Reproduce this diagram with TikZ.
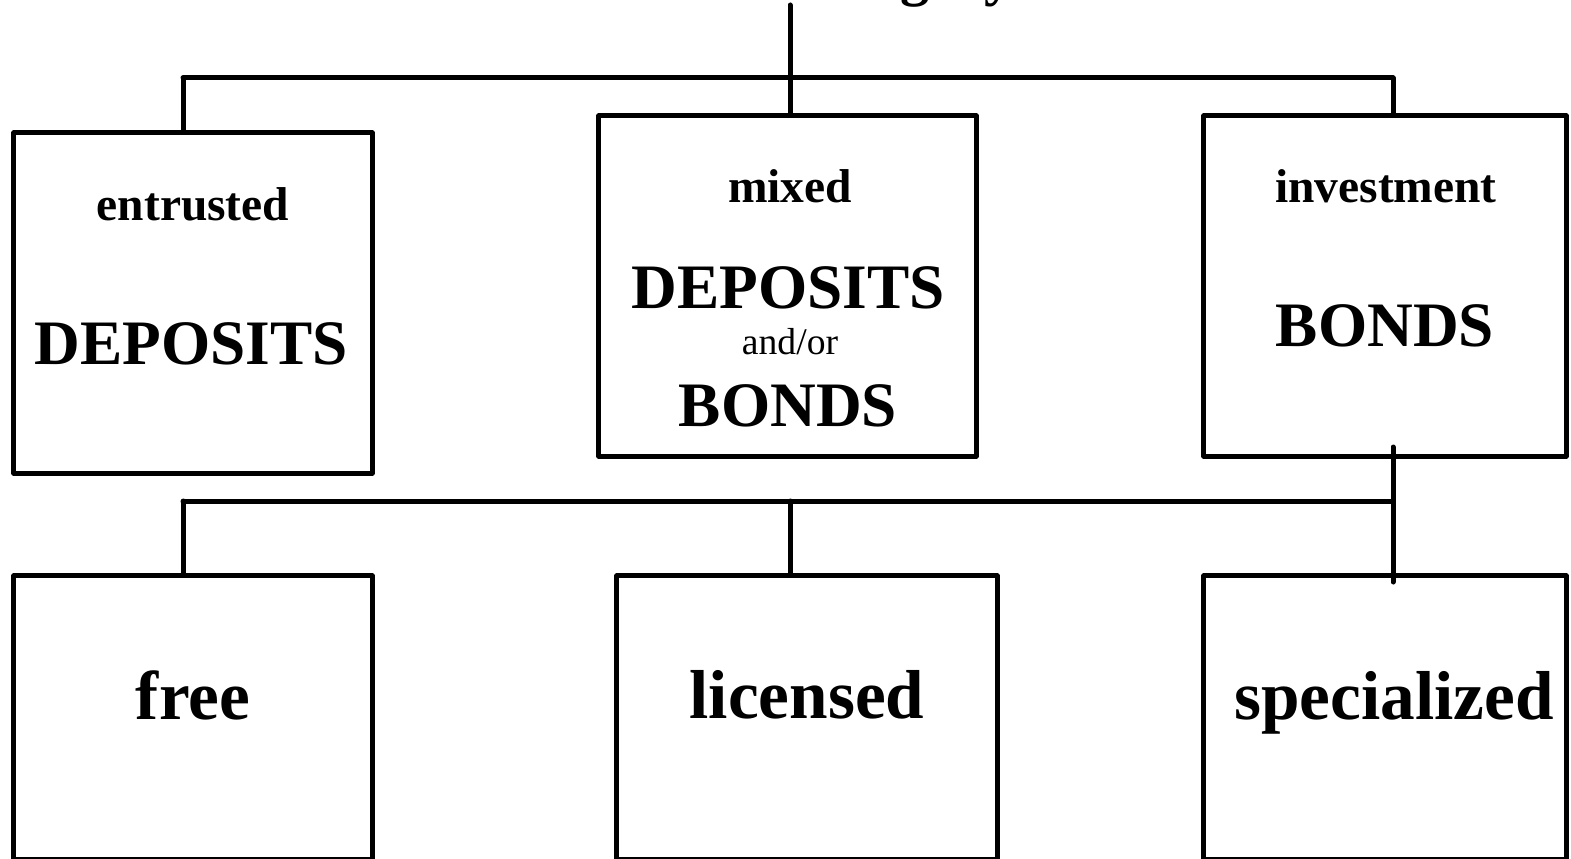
\documentclass[tikz,border=0pt]{standalone}
\usepackage{fontspec}
\setmainfont{Liberation Serif}
\usetikzlibrary{positioning}

\tikzset{
  box/.style={draw, line width=1.42pt, line join=round, inner sep=0pt},
  link/.style={line width=1.42pt, line cap=round, line join=round},
  kind/.style={font=\bfseries\fontsize{13.5}{16}\selectfont, anchor=base, inner sep=0pt},
  asset/.style={font=\bfseries\fontsize{18}{21}\selectfont, anchor=base, inner sep=0pt},
  conj/.style={font=\fontsize{10.7}{13}\selectfont, anchor=base, inner sep=0pt},
  status/.style={font=\bfseries\fontsize{19.7}{23}\selectfont, anchor=base, inner sep=0pt}
}

\begin{document}
\begin{tikzpicture}[x=0.01cm, y=-0.01cm]

		% Parámetros (en píxeles del dibujo)
		\def\Hsup{3.4cm}    % Alto de las cajas superiores
		\def\Hinf{2.83cm}   % Alto de las cajas inferiores
		\def\yBusA{78}      % Altura del bus superior
		\def\yBusB{501}     % Altura del bus inferior

		\useasboundingbox (0,0) rectangle (1571,858);

		% --- 1. TÍTULO (cortado por arriba) ---
		\node[font=\bfseries\fontsize{16.5}{20}\selectfont, anchor=base west, inner sep=0pt] (Titulo) at (800,-5) {category};

		% --- 2. CAJAS SUPERIORES ---
		\node[box, minimum width=3.58cm, minimum height=\Hsup] (Entrusted) at (193,303) {};
		\node[box, minimum width=3.77cm, minimum height=\Hsup] (Mixed) at (787.5,286) {};
		\node[box, minimum width=3.62cm, minimum height=\Hsup] (Investment) at (1385,286) {};

		% Textos
		\node[kind] (tEntrusted) at (193,221) {entrusted};
		\node[asset] (tDepA) at (191,364) {DEPOSITS};

		\node[kind] (tMixed) at (790,203) {mixed};
		\node[asset] (tDepB) at (788,308) {DEPOSITS};
		\node[conj] (tAndOr) at (790,354) {and/or};
		\node[asset] (tBondB) at (788,426) {BONDS};

		\node[kind] (tInvestment) at (1386,203) {investment};
		\node[asset] (tBondC) at (1385,346) {BONDS};

		% --- 3. CAJAS INFERIORES ---
		\node[box, minimum width=3.58cm, minimum height=\Hinf] (Free) at (193,717.5) {};
		\node[box, minimum width=3.8cm, minimum height=\Hinf] (Licensed) at (807,717.5) {};
		\node[box, minimum width=3.62cm, minimum height=\Hinf] (Specialized) at (1385,717.5) {};

		\node[status] (tFree) at (193,719) {free};
		\node[status] (tLicensed) at (807,718) {licensed};
		\node[status] (tSpecialized) at (1394,719) {specialized};

		% --- 4. CONEXIONES ---
		\coordinate (Raiz) at (790,5);
		\coordinate (BusMed) at (790,\yBusA);
		\coordinate (BusIzq) at (183,\yBusA);
		\coordinate (BusDer) at (1393,\yBusA);

		\draw[link] (Raiz) -- (BusMed);
		\draw[link] (BusIzq) -- (BusDer);
		\draw[link] (BusIzq) -- (BusIzq |- Entrusted.north);
		\draw[link] (BusMed) -- (BusMed |- Mixed.north);
		\draw[link] (BusDer) -- (BusDer |- Investment.north);

		% Bus inferior
		\coordinate (BajoIzq) at (183,\yBusB);
		\coordinate (BajoMed) at (790,\yBusB);
		\coordinate (BajoDer) at (1393,\yBusB);
		\coordinate (EnlaceA) at (1393,447);
		\coordinate (EnlaceB) at (1393,582);

		\draw[link] (BajoIzq) -- (BajoDer);
		\draw[link] (EnlaceA) -- (EnlaceB);
		\draw[link] (BajoIzq) -- (BajoIzq |- Free.north);
		\draw[link] (BajoMed) -- (BajoMed |- Licensed.north);

\end{tikzpicture}
\end{document}
